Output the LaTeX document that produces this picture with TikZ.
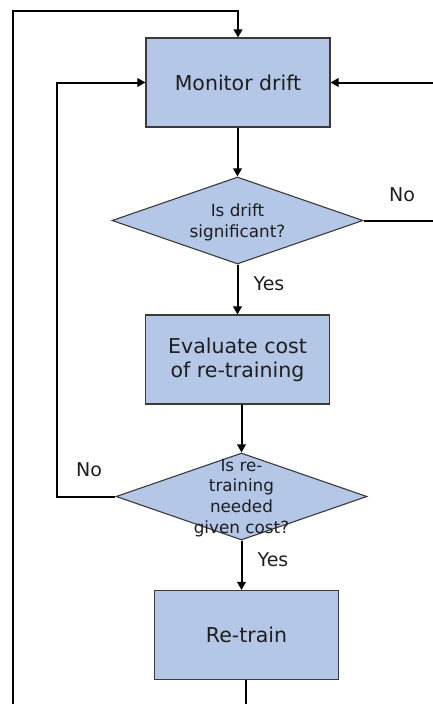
\documentclass[tikz,border=0pt]{standalone}
\usepackage{fontspec}
\setmainfont{DejaVu Sans}
\usetikzlibrary{arrows.meta,shapes.geometric}
\definecolor{boxfill}{HTML}{B4C7E7}
\definecolor{boxline}{HTML}{3A3A3A}
\definecolor{txt}{HTML}{1E1E1E}
\begin{document}
\begin{tikzpicture}[x=1pt,y=-1pt,
  stepbox/.style={draw=boxline,fill=boxfill,line width=1.1pt,minimum width=184pt,
    minimum height=89pt,inner sep=0pt,align=center,text=txt,font=\fontsize{20.5}{24}\selectfont},
  decision/.style={draw=boxline,fill=boxfill,line width=1.1pt,diamond,inner sep=0pt,
    minimum width=251pt,minimum height=87pt},
  qtext/.style={align=center,text=txt,font=\fontsize{16.8}{20.8}\selectfont,inner sep=0pt},
  lbl/.style={text=txt,font=\fontsize{19}{22}\selectfont,inner sep=0pt},
  flow/.style={line width=2pt,-{Triangle[length=8pt,width=8.5pt]}},
  plain/.style={line width=2pt}]
\useasboundingbox (0,0) rectangle (433,704);
\clip (0,0) rectangle (433,704);

% boxes and decisions
\node[stepbox] (mon) at (238,82.5) {Monitor drift};
\node[decision] (d1) at (237.5,220.5) {};
\node[qtext] (q1) at (237.5,222) {Is drift\\significant?};
\node[stepbox] (eval) at (237.5,359.5) {Evaluate cost\\of re-training};
\node[decision] (d2) at (241.5,496.5) {};
\node[stepbox] (rt) at (246.5,635) {Re-train};
\node[qtext] (q2) at (241.5,498) {Is re-\\training\\needed\\given cost?};

% labels
\node[lbl] (no1) at (402,195) {No};
\node[lbl] (yes1) at (269,284) {Yes};
\node[lbl] (no2) at (89,470) {No};
\node[lbl] (yes2) at (273,560) {Yes};

% loose ends of the loops
\coordinate (outb) at (13,710);
\coordinate (outt) at (13,11);
\coordinate (inl) at (57,496.5);
\coordinate (rin) at (440,82.5);
\coordinate (rout) at (440,220.5);
\coordinate (bot) at (245.5,710);

% connectors
\draw[flow] (d1.north |- mon.south) -- (d1.north);
\draw[flow] (d1.south) -- (d1.south |- eval.north);
\draw[flow] (eval.south -| d2.north) -- (d2.north);
\draw[flow] (d2.south) -- (d2.south |- rt.north);
\draw[plain] (bot |- rt.south) -- (bot);
\draw[flow] (outb) -- (outt) -| (mon.north);
\draw[flow] (d2.west) -- (inl) |- (mon.west);
\draw[flow] (rin) -- (mon.east);
\draw[plain] (d1.east) -- (rout);
\end{tikzpicture}
\end{document}
